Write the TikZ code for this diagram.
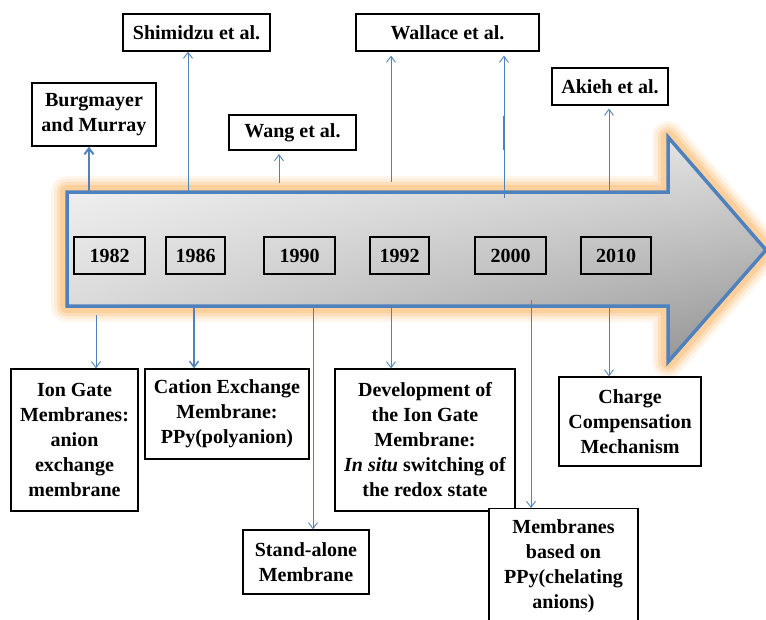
\documentclass[tikz,border=0pt]{standalone}
\usepackage{fontspec}
\setmainfont{Liberation Serif}
\usetikzlibrary{arrows.meta,shadings}
\definecolor{arblue}{RGB}{79,129,189}
\definecolor{glow}{RGB}{250,185,110}
\tikzset{
  evt/.style={draw, line width=1.3pt, fill=white, align=center, inner sep=0pt,
    font=\bfseries\fontsize{20}{25}\selectfont},
  yr/.style={draw, line width=1.6pt, minimum height=37pt, inner sep=0pt,
    font=\bfseries\fontsize{20}{25}\selectfont},
  conn/.style={draw=arblue, line width=0.9pt, -{Straight Barb[length=6pt,width=9pt]}}
}
\begin{document}
\begin{tikzpicture}[x=1pt,y=-1pt]
        \useasboundingbox (0,0) rectangle (766,619);
        % glow
        \foreach \w/\o in {32/0.12, 26/0.18, 20/0.26, 14/0.4}
          \draw[glow, line width=\w pt, line join=round, opacity=\o]
            (67,192) -- (668,192) -- (668,137) -- (766,250) -- (668,362) -- (668,306) -- (67,306) -- cycle;
        % arrow
        \shade[upper left=black!3, upper right=black!12, lower left=black!18, lower right=black!44]
            (67,192) -- (668,192) -- (668,137) -- (766,250) -- (668,362) -- (668,306) -- (67,306) -- cycle;
        \draw[arblue, line width=3.5pt, line join=miter]
            (67,192) -- (668,192) -- (668,137) -- (766,250) -- (668,362) -- (668,306) -- (67,306) -- cycle;
        % years
        \node[yr, minimum width=71pt] (y1982) at (109.5,255.5) {1982};
        \node[yr, minimum width=59pt] (y1986) at (195.5,255.5) {1986};
        \node[yr, minimum width=71pt] (y1990) at (299.5,255.5) {1990};
        \node[yr, minimum width=59pt] (y1992) at (399.5,255.5) {1992};
        \node[yr, minimum width=71pt] (y2000) at (510.5,255.5) {2000};
        \node[yr, minimum width=70pt] (y2010) at (616,255.5) {2010};
        % authors
        \node[evt, minimum width=124pt, minimum height=63pt] (burg) at (94,114.5) {Burgmayer\\and Murray};
        \node[evt, minimum width=147pt, minimum height=37pt] (shim) at (196.5,32.5) {Shimidzu et al.};
        \node[evt, minimum width=127pt, minimum height=35pt] (wang) at (292.5,132.5) {Wang et al.};
        \node[evt, minimum width=183pt, minimum height=37pt] (wall) at (447.5,32.5) {Wallace et al.};
        \node[evt, minimum width=116pt, minimum height=37pt] (akieh) at (610,86.5) {Akieh et al.};
        % findings
        \node[evt, minimum width=127pt, minimum height=142pt] (ion) at (74.5,440) {Ion Gate\\Membranes:\\anion\\exchange\\membrane};
        \node[evt, minimum width=164pt, minimum height=90pt] (cation) at (227,414) {Cation Exchange\\Membrane:\\PPy(polyanion)};
        \node[evt, minimum width=126pt, minimum height=64pt] (stand) at (306,562) {Stand-alone\\Membrane};
        \node[evt, minimum width=180pt, minimum height=142pt] (devel) at (425,440) {Development of\\the Ion Gate\\Membrane:\\\textit{In situ} switching of\\the redox state};
        \node[evt, minimum width=149pt, minimum height=116pt, anchor=north] (chel) at (563.5,508) {Membranes\\based on\\PPy(chelating\\anions)};
        \node[evt, minimum width=142pt, minimum height=89pt] (charge) at (630,421.5) {Charge\\Compensation\\Mechanism};
        % up
        \coordinate (u82) at (89,192);
        \coordinate (u86) at (188,192);
        \coordinate (u90) at (279,183);
        \coordinate (u92) at (391,182);
        \coordinate (u00) at (504,198);
        \coordinate (u10) at (609,192);
        \draw[conn, line width=2pt] (u82) -- (u82 |- burg.south);
        \draw[conn] (u86) -- (u86 |- shim.south);
        \draw[conn] (u90) -- (279,154);
        \draw[conn] (u92) -- ([yshift=-4pt]u92 |- wall.south);
        \draw[conn] (u00) -- ([yshift=-4pt]u00 |- wall.south);
        \draw[arblue, line width=2.2pt] (504,116) -- (504,150);
        \draw[conn] (u10) -- ([yshift=-3pt]u10 |- akieh.south);
        % down
        \coordinate (d82) at (96,315);
        \coordinate (d86) at (194,306);
        \coordinate (d90) at (313,306);
        \coordinate (d92) at (391,306);
        \coordinate (d00) at (531,300);
        \coordinate (d10) at (609,306);
        \draw[conn] (d82) -- (d82 |- ion.north);
        \draw[conn, line width=1.5pt] (d86) -- (d86 |- cation.north);
        \draw[conn] (d90) -- (d90 |- stand.north);
        \draw[conn] (d92) -- (d92 |- devel.north);
        \draw[conn] (d00) -- (d00 |- chel.north);
        \draw[conn] (d10) -- (d10 |- charge.north);
\end{tikzpicture}
\end{document}
